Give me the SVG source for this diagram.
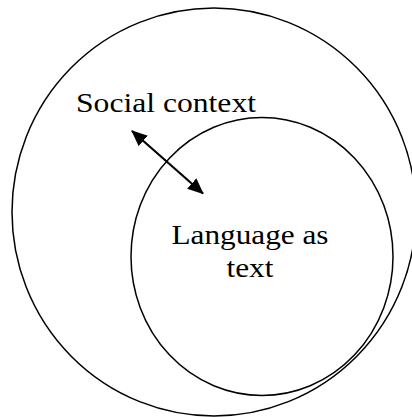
<svg xmlns="http://www.w3.org/2000/svg" width="412" height="417" viewBox="0 0 412 417">
<style>
.ring{fill:none;stroke:#000;stroke-width:1.5}
.lbl{font-family:"Liberation Serif","Times New Roman",serif;font-size:27px;fill:#000}
.conn{stroke:#000;stroke-width:2.2;fill:none}
</style>
<defs>
<marker id="ah" viewBox="0 0 16 14" refX="15" refY="7" markerWidth="16" markerHeight="14" markerUnits="userSpaceOnUse" orient="auto-start-reverse">
<path d="M0,0 L16,7 L0,14 Z" fill="#000"/>
</marker>
</defs>
<rect width="412" height="417" fill="#fff"/>
<g id="social-context">
<ellipse class="ring" cx="214" cy="212" rx="202" ry="204"/>
<text class="lbl" x="76" y="111.5" textLength="180" lengthAdjust="spacingAndGlyphs">Social context</text>
</g>
<g id="language-as-text">
<ellipse class="ring" cx="262" cy="256.5" rx="131" ry="139"/>
<text class="lbl" x="171.5" y="244" textLength="157" lengthAdjust="spacingAndGlyphs">Language as</text>
<text class="lbl" x="226.5" y="276.5" textLength="47" lengthAdjust="spacingAndGlyphs">text</text>
</g>
<g id="connectors">
<line class="conn" x1="132" y1="131" x2="203" y2="193.5" marker-start="url(#ah)" marker-end="url(#ah)"/>
</g>
</svg>
